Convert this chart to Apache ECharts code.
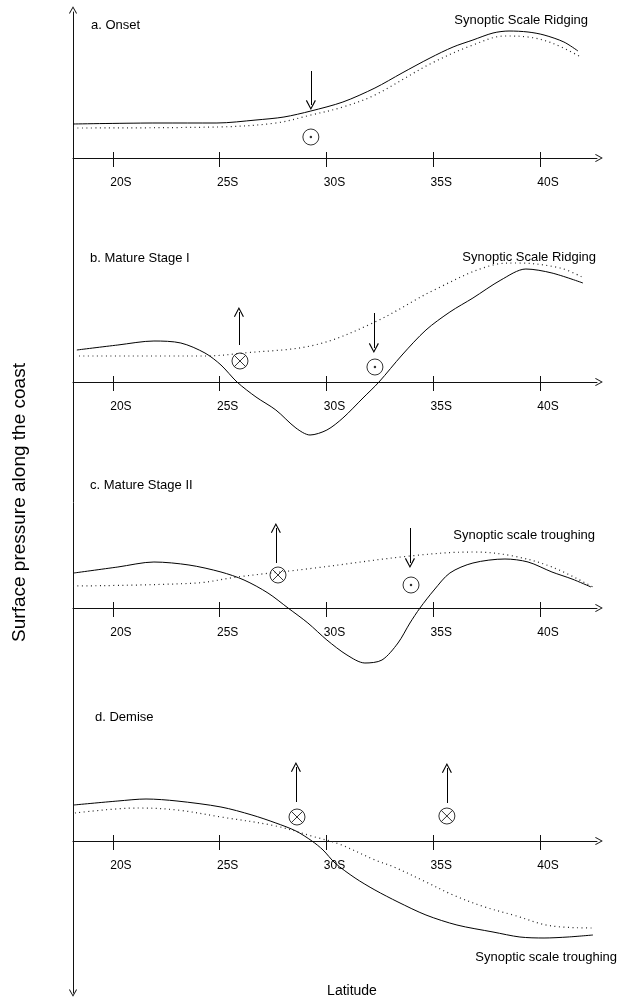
<!DOCTYPE html>
<html><head><meta charset="utf-8">
<script src="https://cdn.jsdelivr.net/npm/echarts@6/dist/echarts.min.js"></script>
<style>html,body{margin:0;padding:0;background:#fff}#c{width:618px;height:1000px}</style>
</head><body><div id="c"></div>
<script>
// ---------- data ----------
const tickValues = [20, 25, 30, 35, 40];
const tickLabels = ['20S', '25S', '30S', '35S', '40S'];
const panelTitles = ['a. Onset', 'b. Mature Stage I', 'c. Mature Stage II', 'd. Demise'];
const scaleNotes = ['Synoptic Scale Ridging', 'Synoptic Scale Ridging', 'Synoptic scale troughing', 'Synoptic scale troughing'];

// a. Onset
const solidLatA = [18.13, 22.11, 24.87, 26.70, 28.01, 29.27, 30.77, 32.27, 33.54, 34.85, 35.93, 36.86, 37.80, 38.55, 39.44, 40.19, 41.12, 41.78];
const solidValA = [3.4, 3.5, 3.5, 3.8, 4.1, 4.7, 5.6, 7.0, 8.5, 10.0, 11.1, 11.8, 12.5, 12.7, 12.6, 12.3, 11.6, 10.7];
const dottedLatA = [18.13, 24.87, 27.63, 29.27, 30.77, 32.27, 34.85, 36.86, 38.36, 39.44, 40.56, 41.83];
const dottedValA = [3.0, 3.1, 3.5, 4.3, 5.1, 6.3, 9.4, 11.3, 12.2, 12.1, 11.5, 10.2];
const arrowsA = [[29.27, 8.7, 5.3]];
const dotsA = [[29.27, 2.1]];
const crossesA = [];

// b. Mature Stage I
const solidLatB = [18.31, 20.23, 21.92, 23.18, 24.31, 25.06, 25.81, 26.70, 27.63, 28.57, 29.23, 30.02, 30.77, 31.71, 32.46, 33.54, 34.66, 35.78, 36.86, 38.17, 39.34, 40.56, 42.01];
const solidValB = [3.2, 3.7, 4.1, 3.9, 2.9, 1.7, 0, -1.5, -2.8, -4.6, -5.3, -4.8, -3.6, -1.6, 0, 2.7, 5.2, 7.0, 8.4, 10.2, 11.3, 10.9, 9.9];
const dottedLatB = [18.41, 24.31, 26.14, 29.46, 32.27, 35.04, 37.80, 38.92, 40.94, 42.06];
const dottedValB = [2.6, 2.6, 2.9, 3.7, 6.0, 9.2, 11.7, 11.9, 11.4, 10.4];
const arrowsB = [[25.90, 3.7, 7.0], [32.22, 6.9, 3.4]];
const dotsB = [[32.27, 1.5]];
const crossesB = [[25.95, 2.1]];

// c. Mature Stage II
const solidLatC = [18.17, 20.23, 21.92, 23.56, 25.06, 26.14, 27.26, 28.20, 29.13, 30.02, 30.96, 31.80, 32.60, 33.35, 33.91, 34.38, 35.04, 35.78, 36.86, 38.36, 39.44, 40.56, 41.50, 42.39];
const solidValC = [3.5, 4.1, 4.6, 4.3, 3.6, 2.8, 1.5, 0, -1.5, -3.2, -4.7, -5.5, -5.2, -3.5, -1.5, 0, 1.8, 3.5, 4.5, 4.9, 4.6, 3.6, 2.9, 2.1];
const dottedLatC = [18.13, 23.93, 25.81, 29.46, 33.91, 36.86, 38.74, 40.56, 42.48];
const dottedValC = [2.2, 2.5, 3.1, 4.0, 5.2, 5.6, 5.2, 4.1, 2.1];
const arrowsC = [[27.63, 4.5, 8.0], [33.91, 8.0, 4.5]];
const dotsC = [[33.96, 2.3]];
const crossesC = [[27.73, 3.3]];

// d. Demise
const solidLatD = [18.17, 20.23, 21.55, 23.00, 25.06, 26.51, 27.63, 28.57, 29.32, 29.84, 30.40, 31.34, 32.27, 33.35, 34.66, 36.11, 37.80, 39.06, 40.19, 41.31, 42.48];
const solidValD = [3.6, 4.0, 4.2, 4.0, 3.4, 2.6, 1.8, 1.0, 0, -0.9, -2.2, -3.7, -4.9, -6.1, -7.4, -8.4, -9.1, -9.6, -9.7, -9.6, -9.4];
const dottedLatD = [18.22, 21.17, 23.00, 25.06, 27.63, 29.46, 30.59, 32.27, 33.16, 34.66, 35.93, 37.42, 38.74, 40.56, 42.48];
const dottedValD = [2.8, 3.3, 3.1, 2.4, 1.5, 0.4, -0.3, -1.9, -2.6, -4.1, -5.4, -6.6, -7.4, -8.5, -8.7];
const arrowsD = [[28.57, 3.9, 7.4], [35.64, 3.8, 7.3]];
const dotsD = [];
const crossesD = [[28.62, 2.4], [35.64, 2.5]];

// ---------- layout / style ----------
const FONT = "'Liberation Sans', Arial, Helvetica, sans-serif";
const LAT_MIN = 18.13, LAT_MAX = 42.67;
const axisYs = [158, 382, 608, 841];
const titlePos = [[91, 25], [90, 258], [90, 485], [95, 717]];
const notePos = [[588, 20], [596, 257], [595, 535], [617, 957]];
const chevron = 'path://M0,0L5,9L4,9.6L0,2.2L-4,9.6L-5,9Z';
const circleX = 'path://M10,0A10,10,0,1,1,10,20A10,10,0,1,1,10,0ZM3,3L17,17M17,3L3,17';

const panels = [
  { sl: solidLatA, sv: solidValA, dl: dottedLatA, dv: dottedValA, ar: arrowsA, dots: dotsA, cr: crossesA },
  { sl: solidLatB, sv: solidValB, dl: dottedLatB, dv: dottedValB, ar: arrowsB, dots: dotsB, cr: crossesB },
  { sl: solidLatC, sv: solidValC, dl: dottedLatC, dv: dottedValC, ar: arrowsC, dots: dotsC, cr: crossesC },
  { sl: solidLatD, sv: solidValD, dl: dottedLatD, dv: dottedValD, ar: arrowsD, dots: dotsD, cr: crossesD }
];
const zip = (a, b) => a.map((v, i) => [v, b[i]]);

const grids = [], xAxes = [], yAxes = [], series = [], graphics = [];
panels.forEach((p, i) => {
  grids.push({ left: 73, width: 524, top: axisYs[i] - 140, height: 140 });
  xAxes.push({
    gridIndex: i, type: 'value', min: LAT_MIN, max: LAT_MAX, position: 'bottom',
    axisLine: { onZero: false, symbol: ['none', chevron], symbolSize: [8, 9], symbolOffset: [0, 2], lineStyle: { color: '#111', width: 1 } },
    axisTick: { customValues: tickValues, length: 9, lineStyle: { color: '#111', width: 1 } },
    axisLabel: { customValues: tickValues, formatter: v => tickLabels[tickValues.indexOf(v)], margin: 19, align: 'center', padding: [0, 0, 0, 16], fontSize: 12, fontFamily: FONT, color: '#000' },
    splitLine: { show: false }
  });
  xAxes.push({
    gridIndex: i, type: 'value', min: LAT_MIN, max: LAT_MAX, position: 'bottom',
    axisLine: { show: false, onZero: false },
    axisTick: { customValues: tickValues, inside: true, length: 6, lineStyle: { color: '#111', width: 1 } },
    axisLabel: { show: false }, splitLine: { show: false }
  });
  yAxes.push({ gridIndex: i, type: 'value', min: 0, max: 14, show: false });

  const xi = 2 * i, yi = i;
  series.push({
    type: 'line', xAxisIndex: xi, yAxisIndex: yi, data: zip(p.sl, p.sv), smooth: 0.3,
    showSymbol: false, clip: false, lineStyle: { color: '#000', width: 1 }, silent: true
  });
  series.push({
    type: 'line', xAxisIndex: xi, yAxisIndex: yi, data: zip(p.dl, p.dv), smooth: 0.35,
    showSymbol: false, clip: false, lineStyle: { color: '#222', width: 1.2, type: [1, 3.5] }, silent: true
  });
  series.push({
    type: 'lines', coordinateSystem: 'cartesian2d', xAxisIndex: xi, yAxisIndex: yi,
    data: p.ar.map(a => ({ coords: [[a[0], a[1]], [a[0], a[2]]] })),
    symbol: ['none', chevron], symbolSize: [8, 10],
    lineStyle: { color: '#000', width: 1, opacity: 1 }, clip: false, silent: true
  });
  series.push({
    type: 'scatter', xAxisIndex: xi, yAxisIndex: yi, data: p.dots, symbol: 'circle', symbolSize: 16,
    itemStyle: { color: 'rgba(0,0,0,0)', borderColor: '#000', borderWidth: 1 }, silent: true, clip: false
  });
  series.push({
    type: 'scatter', xAxisIndex: xi, yAxisIndex: yi, data: p.dots, symbol: 'circle', symbolSize: 2.5,
    itemStyle: { color: '#000' }, silent: true, clip: false
  });
  series.push({
    type: 'scatter', xAxisIndex: xi, yAxisIndex: yi, data: p.cr, symbol: circleX, symbolSize: 16,
    itemStyle: { color: 'rgba(0,0,0,0)', borderColor: '#000', borderWidth: 1 }, silent: true, clip: false
  });

  graphics.push({ type: 'text', x: titlePos[i][0], y: titlePos[i][1],
    style: { text: panelTitles[i], fontSize: 13, fontFamily: FONT, fill: '#000', align: 'left', verticalAlign: 'middle' } });
  graphics.push({ type: 'text', x: notePos[i][0], y: notePos[i][1],
    style: { text: scaleNotes[i], fontSize: 13, fontFamily: FONT, fill: '#000', align: 'right', verticalAlign: 'middle' } });
});

// full-height vertical axis
grids.push({ left: 73, top: 12, width: 10, height: 981 });
xAxes.push({ gridIndex: 4, type: 'value', min: 0, max: 1, show: false });
yAxes.push({
  gridIndex: 4, type: 'value', min: 0, max: 1,
  axisLine: { show: true, onZero: false, symbol: [chevron, chevron], symbolSize: [8, 10], symbolOffset: [0, 2], lineStyle: { color: '#111', width: 1 } },
  axisTick: { show: false }, axisLabel: { show: false }, splitLine: { show: false },
  name: 'Surface pressure along the coast', nameLocation: 'middle', nameGap: 44, nameRotate: 90,
  nameTextStyle: { fontSize: 19, fontFamily: FONT, color: '#000' }
});
graphics.push({ type: 'text', x: 352, y: 991,
  style: { text: 'Latitude', fontSize: 14, fontFamily: FONT, fill: '#000', align: 'center', verticalAlign: 'middle' } });

const chart = echarts.init(document.getElementById('c'), null, { renderer: 'canvas' });
chart.setOption({
  animation: false,
  backgroundColor: '#fff',
  grid: grids, xAxis: xAxes, yAxis: yAxes, series: series, graphic: graphics
});
</script></body></html>
